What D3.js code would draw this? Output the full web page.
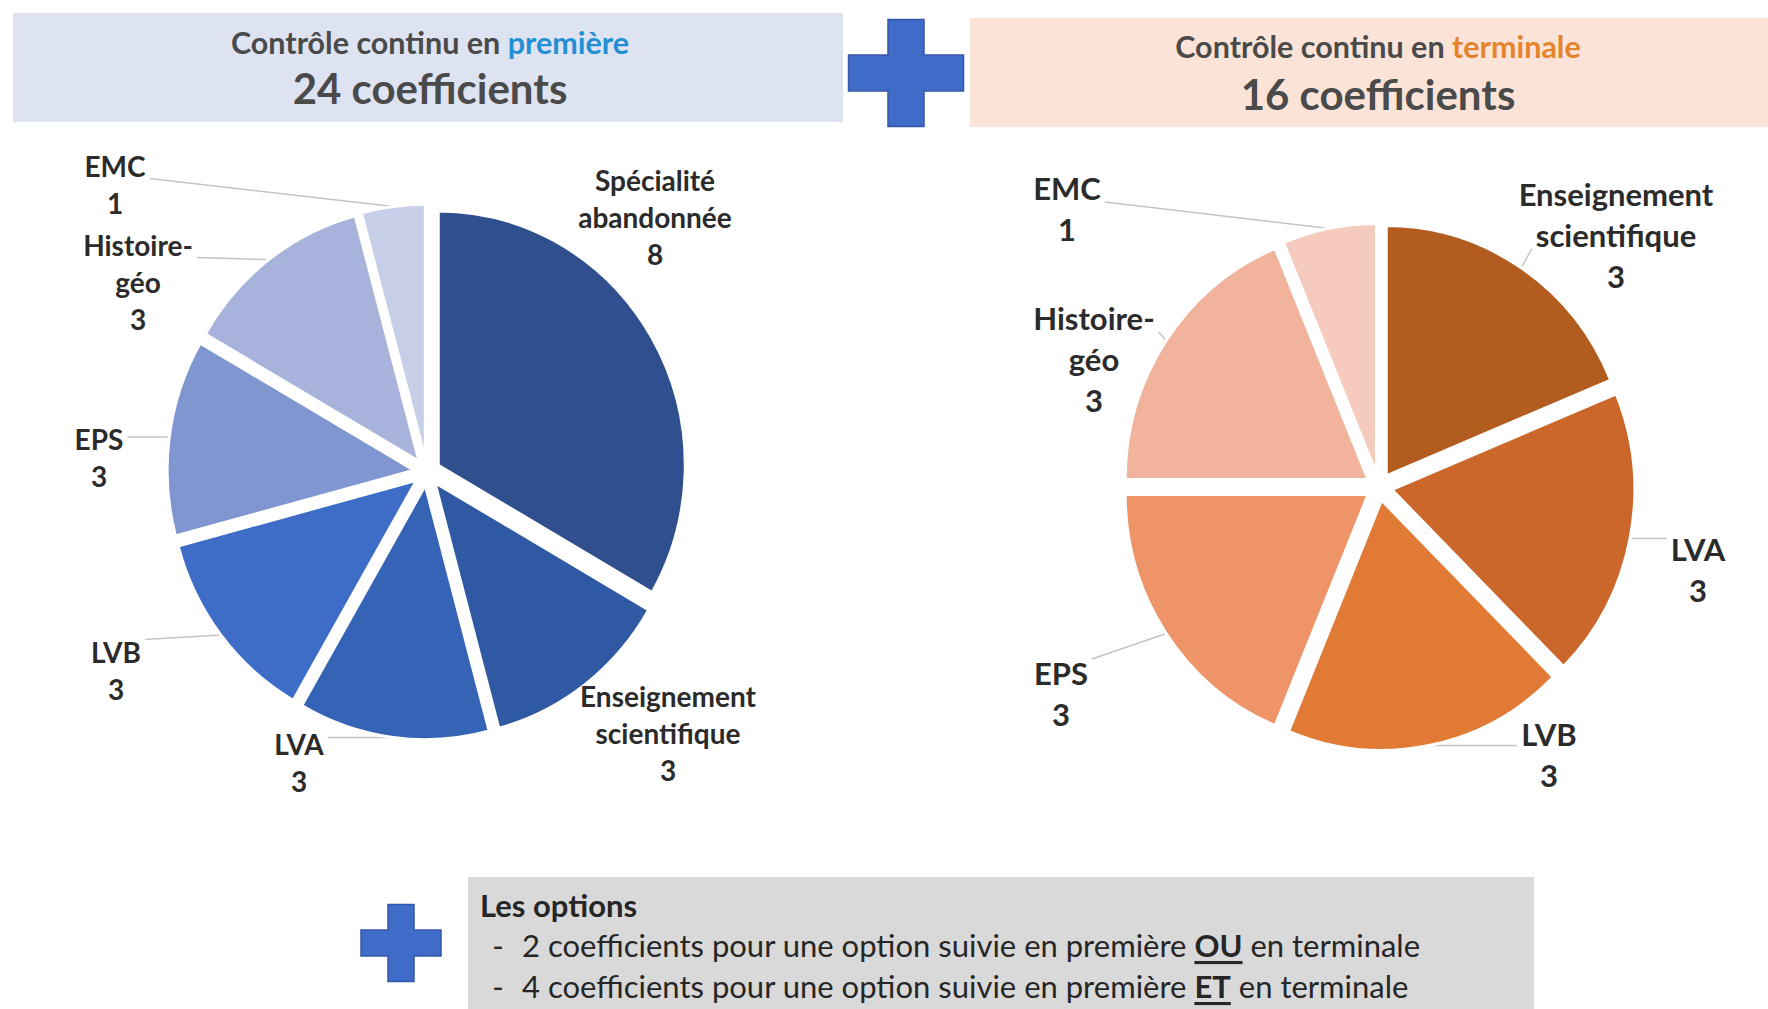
<!DOCTYPE html>
<html>
<head>
<meta charset="utf-8">
<script src="https://cdn.jsdelivr.net/npm/d3@7"></script>
<style>
  body { margin: 0; background: #fff; }
  svg { display: block; }
  text { font-family: Lato, "Open Sans", sans-serif; }
</style>
</head>
<body>
<svg id="chart" width="1768" height="1009"></svg>
<script>
// Data
var premiereLabels = [["Spécialité", "abandonnée"], ["Enseignement", "scientifique"], ["LVA"], ["LVB"], ["EPS"], ["Histoire-", "géo"], ["EMC"]];
var premiereValues = [8, 3, 3, 3, 3, 3, 1];
var premiereColors = ["#2f4f8f", "#2f5aa3", "#3563b5", "#3d6dc6", "#7f96d0", "#a7b3da", "#c6cee8"];

var terminaleLabels = [["Enseignement", "scientifique"], ["LVA"], ["LVB"], ["EPS"], ["Histoire-", "géo"], ["EMC"]];
var terminaleValues = [3, 3, 3, 3, 3, 1];
var terminaleColors = ["#b35c20", "#cb672a", "#e07a34", "#ef9468", "#f2b39c", "#f5cbbd"];

var totals = ["24 coefficients", "16 coefficients"];
var optionsTitle = "Les options";
var optionLines = [
  ["2 coefficients pour une option suivie en première ", "OU", " en terminale"],
  ["4 coefficients pour une option suivie en première ", "ET", " en terminale"]
];

var svg = d3.select("#chart");

// Layout
var explode = 13, stretch = 1.03;
var pies = [
  { cx: 427, cy: 472, radius: 247, labels: premiereLabels, values: premiereValues, colors: premiereColors,
    fontSize: 28, lineGap: 37,
    labelAt: [[655, 180], [668, 696], [299, 744], [116, 652], [99, 439], [138, 245], [115, 166]],
    leader: [false, false, true, true, true, true, true] },
  { cx: 1379, cy: 487, radius: 243, labels: terminaleLabels, values: terminaleValues, colors: terminaleColors,
    fontSize: 31, lineGap: 41,
    labelAt: [[1616, 194], [1698, 549], [1549, 734], [1061, 673], [1094, 318], [1067, 188]],
    leader: [true, true, true, true, true, true] }
];

// Banners
svg.append("rect").attr("x", 13).attr("y", 13).attr("width", 830).attr("height", 109).attr("fill", "#dee3f1");
svg.append("rect").attr("x", 970).attr("y", 18).attr("width", 798).attr("height", 109).attr("fill", "#fbe4d7");

function banner(x, y1, y2, word, wordColor, total) {
  var t = svg.append("text").attr("x", x).attr("y", y1).attr("text-anchor", "middle")
    .attr("dominant-baseline", "central").attr("font-size", 30.5).attr("font-weight", 700).attr("fill", "#4a4a4a");
  t.append("tspan").text("Contrôle continu en ");
  t.append("tspan").attr("fill", wordColor).text(word);
  svg.append("text").attr("x", x).attr("y", y2).attr("text-anchor", "middle")
    .attr("dominant-baseline", "central").attr("font-size", 42).attr("font-weight", 700).attr("fill", "#4a4a4a")
    .text(total);
}
banner(430, 42, 88, "première", "#2390d4", totals[0]);
banner(1378, 46, 94, "terminale", "#e5842c", totals[1]);

// Plus signs
function plus(cx, cy, w, h, t) {
  svg.append("path")
    .attr("d", "M" + (cx - t / 2) + "," + (cy - h / 2) + "h" + t + "v" + (h / 2 - t / 2) + "h" + (w / 2 - t / 2) +
      "v" + t + "h" + (-(w / 2 - t / 2)) + "v" + (h / 2 - t / 2) + "h" + (-t) + "v" + (-(h / 2 - t / 2)) +
      "h" + (-(w / 2 - t / 2)) + "v" + (-t) + "h" + (w / 2 - t / 2) + "z")
    .attr("fill", "#3f6cc8").attr("stroke", "#3458a8").attr("stroke-width", 1.5);
}
plus(906, 73, 115, 107, 36);
plus(401, 943, 80, 77, 26);

// Pies
pies.forEach(function(p) {
  var pie = d3.pie().sort(null).value(function(d) { return d; });
  var arcs = pie(p.values);
  var arc = d3.arc().innerRadius(0).outerRadius(p.radius);
  var g = svg.append("g").attr("transform", "translate(" + p.cx + "," + p.cy + ") scale(1," + stretch + ")");

  function offset(d) {
    var a = (d.startAngle + d.endAngle) / 2;
    return [explode * Math.sin(a), -explode * Math.cos(a)];
  }

  g.selectAll("path").data(arcs).enter().append("path")
    .attr("d", arc)
    .attr("transform", function(d) { var o = offset(d); return "translate(" + o[0] + "," + o[1] + ")"; })
    .attr("fill", function(d, i) { return p.colors[i]; })
    .attr("stroke", "#fff").attr("stroke-width", 3);

  arcs.forEach(function(d, i) {
    var lines = p.labels[i];
    var pos = p.labelAt[i];
    var boxes = [];
    var t = svg.append("text").attr("text-anchor", "middle").attr("font-size", p.fontSize)
      .attr("font-weight", 700).attr("fill", "#2b2b2b");
    lines.concat([String(p.values[i])]).forEach(function(s, k) {
      var ts = t.append("tspan").attr("x", pos[0]).attr("y", pos[1] + k * p.lineGap)
        .attr("dominant-baseline", "central").text(s);
      var w = ts.node().getComputedTextLength();
      boxes.push([pos[0] - w / 2, pos[1] + k * p.lineGap - p.fontSize * 0.45, w, p.fontSize * 0.9]);
    });

    if (!p.leader[i]) return;
    // Leader to the middle of the slice rim
    var a = (d.startAngle + d.endAngle) / 2;
    var o = offset(d);
    var tx = p.cx + o[0] + p.radius * Math.sin(a);
    var ty = p.cy + (o[1] - p.radius * Math.cos(a)) * stretch;
    var best = null;
    boxes.forEach(function(b) {
      var nx = Math.max(b[0] - 4, Math.min(tx, b[0] + b[2] + 4));
      var ny = Math.max(b[1], Math.min(ty, b[1] + b[3]));
      var dist = Math.hypot(tx - nx, ty - ny);
      if (!best || dist < best[2]) best = [nx, ny, dist];
    });
    if (best[2] < 6) return;
    svg.insert("line", "text").attr("x1", best[0]).attr("y1", best[1]).attr("x2", tx).attr("y2", ty)
      .attr("stroke", "#c4c4c4").attr("stroke-width", 1.5);
  });
});

// Options box
svg.append("rect").attr("x", 468).attr("y", 877).attr("width", 1066).attr("height", 140).attr("fill", "#d9d9d9");
svg.append("text").attr("x", 480).attr("y", 905).attr("dominant-baseline", "central")
  .attr("font-size", 31).attr("font-weight", 700).attr("fill", "#262626").text(optionsTitle);
optionLines.forEach(function(parts, k) {
  var y = 945 + k * 41;
  svg.append("text").attr("x", 498).attr("y", y).attr("text-anchor", "middle").attr("dominant-baseline", "central")
    .attr("font-size", 31).attr("fill", "#262626").text("-");
  var t = svg.append("text").attr("x", 522).attr("y", y).attr("dominant-baseline", "central")
    .attr("font-size", 31).attr("fill", "#262626");
  t.append("tspan").text(parts[0]);
  t.append("tspan").attr("font-weight", 700).style("text-decoration", "underline").text(parts[1]);
  t.append("tspan").text(parts[2]);
});
</script>
</body>
</html>
